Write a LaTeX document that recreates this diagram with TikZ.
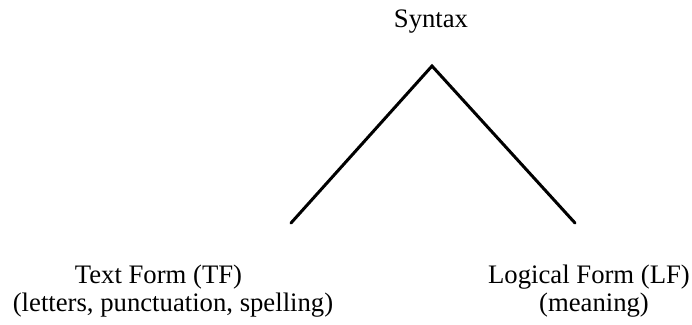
\documentclass[tikz,border=0pt]{standalone}
\usepackage{fontspec}
\setmainfont{Liberation Serif}
\begin{document}
\begin{tikzpicture}[x=1pt,y=-1pt,
  lbl/.style={inner sep=0pt,anchor=base,font=\fontsize{26.7}{26}\selectfont},
  branch/.style={line width=3pt,line cap=round,line join=miter}]
\useasboundingbox (0,0) rectangle (692,324);
\node[lbl] (syn) at (431,27) {Syntax};
\coordinate (apex) at (432,66);
\coordinate (lend) at (291,223);
\coordinate (rend) at (575,223);
\draw[branch] (lend) -- (apex) -- (rend);
\node[lbl] (tf) at (158.5,283) {Text Form (TF)};
\node[lbl] (tfsub) at (173,311) {(letters, punctuation, spelling)};
\node[lbl] (lf) at (589,283) {Logical Form (LF)};
\node[lbl] (lfsub) at (594,311) {(meaning)};
\end{tikzpicture}
\end{document}
